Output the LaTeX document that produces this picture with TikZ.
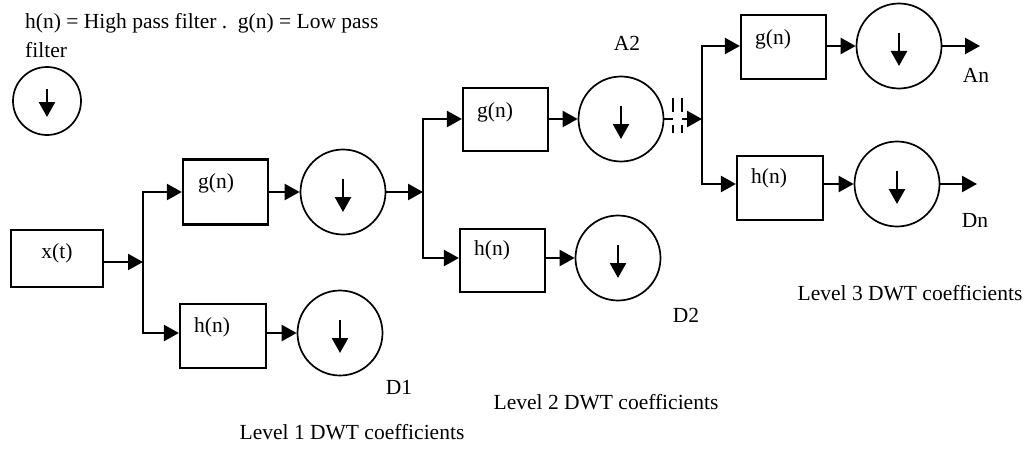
\documentclass[tikz,border=0pt]{standalone}
\usepackage{fontspec}
\setmainfont{Liberation Serif}
\usetikzlibrary{arrows.meta}
\begin{document}
\begin{tikzpicture}[x=1pt,y=-1pt,
  txt/.style={inner sep=0pt, font=\fontsize{21.5}{29}\selectfont},
  blk/.style={draw, line width=2.2pt, minimum width=85pt, minimum height=64pt, inner sep=0pt},
  dn/.style={draw, circle, line width=1.7pt, minimum size=85pt, inner sep=0pt},
  conn/.style={line width=2.3pt, -{Triangle[length=15pt,width=16pt]}},
  wire/.style={line width=2.3pt},
  darr/.style={line width=2.5pt, -{Triangle[length=15pt,width=16pt]}},
  brk/.style={line width=2pt, dash pattern=on 14pt off 13pt}
]
\useasboundingbox (0,0) rectangle (1024,452);

% header
\node[txt, anchor=north west, align=left] (hdr) at (25,13)
  {h(n) = High pass filter .\ \ g(n) = Low pass\\filter};
\node[dn, minimum size=68pt] (leg) at (47,101) {};

% blocks
\node[blk, minimum width=92pt, minimum height=57pt] (xt) at (56.7,258.5) {};
\node[blk, minimum height=65pt] (g1) at (225.5,192) {};
\node[blk, minimum width=86pt] (h1) at (223,336) {};
\node[blk, minimum height=63pt] (g2) at (505.5,119.5) {};
\node[blk, minimum height=63pt] (h2) at (502.5,260.5) {};
\node[blk] (g3) at (783.5,47) {};
\node[blk, minimum width=86pt] (h3) at (780,188) {};

% down-samplers
\node[dn] (c1g) at (343,192) {};
\node[dn] (c1h) at (340,333) {};
\node[dn] (c2g) at (621,119) {};
\node[dn] (c2h) at (618,258) {};
\node[dn] (c3g) at (899,46) {};
\node[dn] (c3h) at (897,184) {};
\foreach \c in {c1g,c1h,c2g,c2h,c3g,c3h}
  \draw[darr] ([yshift=13pt]\c.center) -- ([yshift=-20pt]\c.center);
\draw[darr] ([yshift=12pt]leg.center) -- ([yshift=-16pt]leg.center);

% junction and end coordinates
\coordinate (j1) at (143,262);
\coordinate (j2) at (423,192);
\coordinate (brkA) at (673,119);
\coordinate (brkB) at (682,119);
\coordinate (j3) at (702,119);
\coordinate (outA) at (980,46);
\coordinate (outD) at (977,184);

% connectors
\draw[conn] (xt.east |- j1) -- (j1);
\draw[conn] (j1) |- (g1.west |- c1g);
\draw[conn] (j1) |- (h1.west |- c1h);
\draw[conn] (g1.east |- c1g) -- (c1g.west);
\draw[conn] (h1.east |- c1h) -- (c1h.west);
\draw[conn] (c1g.east) -- (j2);
\draw[conn] (j2) |- (g2.west |- c2g);
\draw[conn] (j2) |- (h2.west |- c2h);
\draw[conn] (g2.east |- c2g) -- (c2g.west);
\draw[conn] (h2.east |- c2h) -- (c2h.west);
\draw[wire] (c2g.east) -- (brkA);
\draw[brk] ([yshift=21pt]brkA) -- ([yshift=-14pt]brkA);
\draw[brk] ([yshift=21pt]brkB) -- ([yshift=-14pt]brkB);
\draw[conn] (brkB) -- (j3);
\draw[conn] (j3) |- (g3.west |- c3g);
\draw[conn] (j3) |- (h3.west |- c3h);
\draw[conn] (g3.east |- c3g) -- (c3g.west);
\draw[conn] (h3.east |- c3h) -- (c3h.west);
\draw[conn] (c3g.east) -- (outA);
\draw[conn] (c3h.east) -- (outD);

% labels
\node[txt] (lxt) at (57,253) {x(t)};
\node[txt] (lg1) at (216,183) {g(n)};
\node[txt] (lh1) at (212,327) {h(n)};
\node[txt] (lg2) at (495,112) {g(n)};
\node[txt] (lh2) at (492,250) {h(n)};
\node[txt] (lg3) at (773,39) {g(n)};
\node[txt] (lh3) at (769,178) {h(n)};
\node[txt] (lA2) at (627,43) {A2};
\node[txt] (lD1) at (399,387) {D1};
\node[txt] (lD2) at (686,315) {D2};
\node[txt] (lAn) at (976,75) {An};
\node[txt] (lDn) at (975,220) {Dn};
\node[txt] (lv1) at (352,432) {Level 1 DWT coefficients};
\node[txt] (lv2) at (606,402) {Level 2 DWT coefficients};
\node[txt] (lv3) at (910,293) {Level 3 DWT coefficients};
\end{tikzpicture}
\end{document}
